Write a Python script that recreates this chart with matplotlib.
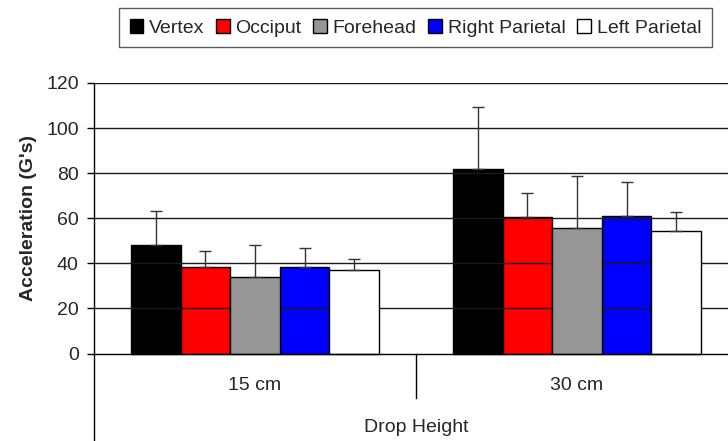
import numpy as np
from matplotlib import pyplot as plt

plt.rcParams['font.family'] = ['Liberation Sans', 'DejaVu Sans']

# Peak acceleration (G's) per impact site, mean and standard deviation
heights = ['15 cm', '30 cm']
sites = ['Vertex', 'Occiput', 'Forehead', 'Right Parietal', 'Left Parietal']
colors = ['#000000', '#ff0000', '#969696', '#0000ff', '#ffffff']
means = [
    [48.0, 38.4, 34.0, 38.5, 37.0],   # Vertex .. Left Parietal at 15 cm
    [82.0, 60.4, 55.7, 61.2, 54.2],   # at 30 cm
]
sds = [
    [15.1, 6.9, 14.0, 8.3, 5.0],
    [27.3, 10.6, 23.1, 14.8, 8.5],
]

means = np.array(means).T
sds = np.array(sds).T

txt = '#262626'
fs = 14
fig = plt.figure(figsize=(7.28, 4.41), dpi=100)
ax = fig.add_axes([0.1291, -0.0061, 0.8846, 0.8179])

x = np.arange(len(heights)) + 0.5
w = 0.154
for k, site in enumerate(sites):
    pos = x + (k - 2) * w
    # red/blue/black sit under the gridlines, grey and white above them
    z = 3 if colors[k] in ('#969696', '#ffffff') else 1
    ax.bar(pos, means[k], w, color=colors[k], edgecolor='black', linewidth=1,
           label=site, zorder=z)
    ax.errorbar(pos, means[k], yerr=[np.zeros(len(heights)), sds[k]], fmt='none',
                ecolor='#333333', elinewidth=1, capsize=4.3, capthick=1, zorder=4)

ax.set_xlim(0, 2)
ax.set_ylim(-40, 120)
ax.set_yticks(np.arange(0, 121, 20))
ax.tick_params(axis='y', length=5, width=1, pad=6, labelsize=fs, labelcolor=txt)
ax.set_xticks([])
for yv in np.arange(20, 121, 20):
    ax.axhline(yv, color='#1a1a1a', lw=1, zorder=2)
ax.axhline(0, color='black', lw=1, zorder=5)

for s in ['top', 'right', 'bottom']:
    ax.spines[s].set_visible(False)
ax.spines['left'].set_linewidth(1)

# category separator and labels under the baseline
ax.plot([1, 1], [0, -19.6], color='black', lw=1, clip_on=False)
for xi, h in zip(x, heights):
    ax.text(xi, -14, h, ha='center', va='center', fontsize=fs, color=txt)
ax.text(1, -33, 'Drop Height', ha='center', va='center', fontsize=fs, color=txt)

ax.text(-0.102, 60, "Acceleration (G's)", rotation=90, ha='center', va='center',
        fontsize=fs, fontweight='bold', color=txt,
        transform=ax.get_yaxis_transform())

leg = fig.legend(loc='center', bbox_to_anchor=(0.5706, 0.9367), ncol=5,
                 fontsize=fs, frameon=True, fancybox=False, handlelength=0.7,
                 handleheight=0.7, handletextpad=0.3, columnspacing=0.6,
                 borderpad=0.55, borderaxespad=0)
leg.get_frame().set_edgecolor('#333333')
leg.get_frame().set_linewidth(1)
for t in leg.get_texts():
    t.set_color(txt)

fig.savefig('out.png', dpi=100)
